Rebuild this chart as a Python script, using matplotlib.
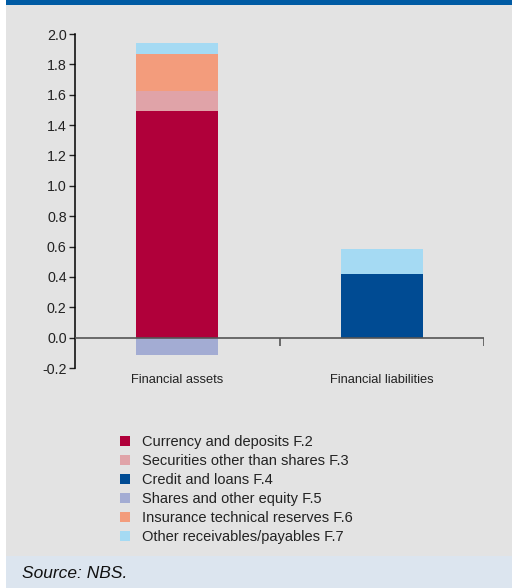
import numpy as np
import matplotlib.pyplot as plt
from matplotlib.patches import Rectangle

plt.rcParams["font.family"] = ["Liberation Sans", "DejaVu Sans"]

categories = ["Financial assets", "Financial liabilities"]
series_names = [
    "Currency and deposits F.2",
    "Securities other than shares F.3",
    "Credit and loans F.4",
    "Shares and other equity F.5",
    "Insurance technical reserves F.6",
    "Other receivables/payables F.7",
]
currency = [1.49, 0.0]
securities = [0.135, 0.0]
credit = [0.0, 0.42]
shares = [-0.115, 0.0]
insurance = [0.245, 0.0]
other = [0.072, 0.165]

colors = ["#B0003A", "#E0A3A8", "#004B93", "#A3ACD3", "#F39C7C", "#A5DAF3"]

fig = plt.figure(figsize=(5.12, 5.88), dpi=100)
fig.patch.set_facecolor("white")

# background panels
fig.add_artist(Rectangle((6 / 512, 32 / 588), 1, 551 / 588, transform=fig.transFigure,
                         facecolor="#E3E3E3", edgecolor="none", zorder=-3))
fig.add_artist(Rectangle((6 / 512, 583 / 588), 1, 5 / 588, transform=fig.transFigure,
                         facecolor="#005BA4", edgecolor="none", zorder=-2))
fig.add_artist(Rectangle((6 / 512, 0), 1, 32 / 588, transform=fig.transFigure,
                         facecolor="#DCE5EF", edgecolor="none", zorder=-2))

ax = fig.add_axes([75 / 512, 220 / 588, 409 / 512, 334 / 588])
ax.set_facecolor("none")

x = np.arange(len(categories))
w = 0.4
pos_base = np.zeros(len(categories))
stack = [(currency, 0), (securities, 1), (credit, 2), (insurance, 4), (other, 5)]
handles = {}
for vals, ci in stack:
    vals = np.array(vals)
    handles[ci] = ax.bar(x, vals, w, bottom=pos_base, color=colors[ci], linewidth=0, zorder=2)
    pos_base = pos_base + vals
handles[3] = ax.bar(x, shares, w, color=colors[3], linewidth=0, zorder=2)

ax.axhline(0, color="#555555", linewidth=1.2, zorder=3)
# separators between categories on the zero line
ax.vlines([0.5, 1.5], -0.055, 0, color="#555555", linewidth=1.2, zorder=3)

ax.set_xlim(-0.5, 1.5)
ax.set_ylim(-0.2, 2.0)
ax.set_yticks(np.arange(-0.2, 2.01, 0.2))
ax.set_yticklabels([f"{v:.1f}" for v in np.arange(-0.2, 2.01, 0.2)])
ax.set_xticks(x)
ax.set_xticklabels(categories, fontsize=9.3, color="#222222")
ax.tick_params(axis="x", length=0, pad=4)
ax.tick_params(axis="y", length=4, width=1, labelsize=10.3, colors="#222222", pad=2)
for s in ["top", "right", "bottom"]:
    ax.spines[s].set_visible(False)
ax.spines["left"].set_linewidth(1.1)

leg = fig.legend([handles[i] for i in range(6)], series_names,
                 loc="upper left", bbox_to_anchor=(114 / 512, 159 / 588),
                 frameon=False, fontsize=10.5, handlelength=0.7, handleheight=0.7,
                 handletextpad=0.85, labelspacing=0.35, borderaxespad=0)
for t in leg.get_texts():
    t.set_color("#222222")

fig.text(22 / 512, 15 / 588, "Source: NBS.", fontsize=12.5, style="italic",
         va="center", ha="left", color="#111111")

fig.savefig("out.png", dpi=100)
